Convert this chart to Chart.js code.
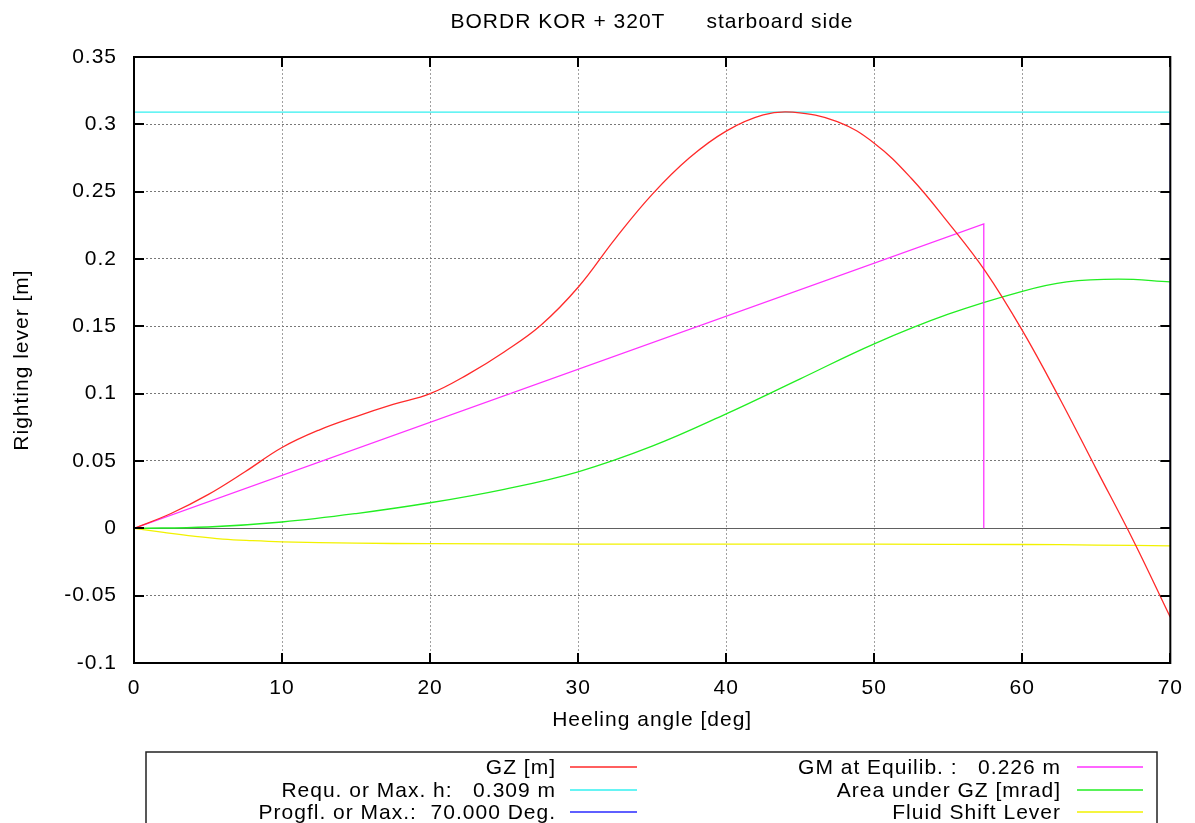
<!DOCTYPE html>
<html>
<head>
<meta charset="utf-8">
<title>BORDR KOR + 320T starboard side</title>
<script src="https://cdn.jsdelivr.net/npm/chart.js@4.4.1/dist/chart.umd.min.js"></script>
<style>
  html, body { margin: 0; padding: 0; background: #fff; }
  #chart { display: block; }
</style>
</head>
<body>
<canvas id="chart" width="1195" height="823"></canvas>
<script>
// values: heeling angle [deg] -> lever [m]
const gzAngles = [0, 2.5, 5, 7.5, 10, 12.5, 15, 17.5, 20, 22.5, 25, 27.5, 30, 32.5, 35, 37.5, 40, 42.5, 44.5, 47.5, 50, 52.5, 55, 57.5, 60, 62.5, 65, 67.5, 70];
const gzValues = [0, 0.011, 0.025, 0.042, 0.060, 0.073, 0.083, 0.092, 0.100, 0.114, 0.131, 0.151, 0.179, 0.215, 0.248, 0.275, 0.295, 0.307, 0.309, 0.302, 0.286, 0.260, 0.227, 0.191, 0.147, 0.097, 0.044, -0.009, -0.066];

const gmAngles = [0, 57.4, 57.4];
const gmValues = [0, 0.226, 0];

const maxLeverAngles = [0, 70];
const maxLeverValues = [0.309, 0.309];

const areaAngles = [0, 5, 10, 15, 20, 25, 30, 35, 40, 45, 50, 55, 60, 63, 66.5, 70];
const areaValues = [0, 0.001, 0.0047, 0.011, 0.019, 0.029, 0.042, 0.061, 0.085, 0.111, 0.137, 0.159, 0.176, 0.183, 0.185, 0.183];

const rangeAngles = [70, 70];
const rangeValues = [0, 0.309];

const fluidAngles = [0, 2, 4, 6, 8, 10, 15, 20, 30, 40, 50, 60, 65, 70];
const fluidValues = [0, -0.003, -0.0058, -0.0080, -0.0092, -0.0100, -0.0110, -0.0114, -0.0117, -0.0118, -0.0118, -0.0120, -0.0124, -0.0131];

const xTicks = [0, 10, 20, 30, 40, 50, 60, 70];
const yTicks = [-0.1, -0.05, 0, 0.05, 0.1, 0.15, 0.2, 0.25, 0.3, 0.35];

// key order is row-wise over two columns, as gnuplot lays it out
const seriesLabels = [
  "GZ [m]",
  "GM at Equilib. :   0.226 m",
  "Requ. or Max. h:   0.309 m",
  "Area under GZ [mrad]",
  "Progfl. or Max.:  70.000 Deg.",
  "Fluid Shift Lever",
];

const FAMILY = '"Liberation Sans", Arial, Helvetica, sans-serif';
const FONT = "21px " + FAMILY;
const SPACING = "1px";

const toPoints = (xs, ys) => xs.map((x, i) => ({ x: x, y: ys[i] }));

function line(label, xs, ys, color, smooth) {
  return {
    label: label,
    data: toPoints(xs, ys),
    borderColor: color,
    backgroundColor: color,
    borderWidth: 1.3,
    pointRadius: 0,
    fill: false,
    tension: smooth ? 0.4 : 0,
  };
}

const frame = {
  id: "frame",
  beforeInit(chart) {
    chart.ctx.letterSpacing = SPACING;
  },
  beforeDraw(chart) {
    chart.ctx.letterSpacing = SPACING;
  },
  beforeDatasetsDraw(chart) {
    const { ctx, chartArea: a, scales } = chart;
    const y0 = Math.round(scales.y.getPixelForValue(0)) + 0.5;
    ctx.save();
    ctx.strokeStyle = "#606060";
    ctx.lineWidth = 1.2;
    ctx.beginPath();
    ctx.moveTo(a.left, y0);
    ctx.lineTo(a.right, y0);
    ctx.stroke();
    ctx.restore();
  },
  afterDatasetsDraw(chart) {
    const { ctx, chartArea: a, scales } = chart;
    ctx.save();
    ctx.strokeStyle = "#000";
    ctx.lineWidth = 2;
    ctx.strokeRect(a.left, a.top, a.right - a.left, a.bottom - a.top);
    ctx.beginPath();
    xTicks.forEach((v) => {
      const px = Math.round(scales.x.getPixelForValue(v));
      ctx.moveTo(px, a.bottom);
      ctx.lineTo(px, a.bottom - 10);
      ctx.moveTo(px, a.top);
      ctx.lineTo(px, a.top + 10);
    });
    yTicks.forEach((v) => {
      const py = Math.round(scales.y.getPixelForValue(v));
      ctx.moveTo(a.left, py);
      ctx.lineTo(a.left + 10, py);
      ctx.moveTo(a.right, py);
      ctx.lineTo(a.right - 10, py);
    });
    ctx.stroke();
    ctx.restore();
  },
  afterDraw(chart) {
    const ctx = chart.ctx;
    ctx.save();
    ctx.letterSpacing = SPACING;
    ctx.font = FONT;
    ctx.fillStyle = "#000";
    ctx.textBaseline = "middle";
    ctx.textAlign = "center";
    ctx.fillText("BORDR KOR + 320T      starboard side", 652, 22);

    // key box under the plot
    ctx.strokeStyle = "#222";
    ctx.lineWidth = 1.5;
    ctx.strokeRect(146, 752, 1157 - 146, 100);
    const rowY = [767, 790, 812];
    const textRight = [556, 1061];
    const sampleX = [[570, 637], [1077, 1143]];
    ctx.textAlign = "right";
    chart.data.datasets.forEach((ds, i) => {
      const col = i % 2;
      const y = rowY[Math.floor(i / 2)];
      ctx.fillStyle = "#000";
      ctx.fillText(ds.label, textRight[col], y + 1);
      ctx.strokeStyle = ds.borderColor;
      ctx.lineWidth = 1.5;
      ctx.beginPath();
      ctx.moveTo(sampleX[col][0], y);
      ctx.lineTo(sampleX[col][1], y);
      ctx.stroke();
    });
    ctx.restore();
  },
};

Chart.defaults.font.family = FAMILY;
Chart.defaults.font.size = 21;
Chart.defaults.color = "#000";

const chart = new Chart(document.getElementById("chart"), {
  type: "line",
  data: {
    datasets: [
      line(seriesLabels[0], gzAngles, gzValues, "#ff2a2a", true),
      line(seriesLabels[1], gmAngles, gmValues, "#ff33ff", false),
      line(seriesLabels[2], maxLeverAngles, maxLeverValues, "#33f0f0", false),
      line(seriesLabels[3], areaAngles, areaValues, "#22ee22", true),
      line(seriesLabels[4], rangeAngles, rangeValues, "#2a2aff", false),
      line(seriesLabels[5], fluidAngles, fluidValues, "#f2f200", true),
    ],
  },
  options: {
    responsive: false,
    animation: false,
    layout: { padding: { top: 57, right: 24, bottom: 90, left: 0 } },
    plugins: {
      legend: { display: false },
      tooltip: { enabled: false },
    },
    scales: {
      x: {
        type: "linear",
        min: 0,
        max: 70,
        afterBuildTicks: (s) => { s.ticks = xTicks.map((v) => ({ value: v })); },
        afterFit: (s) => { s.height = 70; },
        ticks: { padding: 13, maxRotation: 0, callback: (v) => String(v) },
        grid: { color: "#a0a0a0", lineWidth: 1, drawTicks: false },
        border: { display: false, dash: [2, 2] },
        title: {
          display: true,
          text: "Heeling angle [deg]",
          padding: { top: 0, bottom: 0 },
        },
      },
      y: {
        min: -0.1,
        max: 0.35,
        afterBuildTicks: (s) => { s.ticks = yTicks.map((v) => ({ value: v })); },
        afterFit: (s) => { s.width = 134; },
        ticks: { padding: 17, callback: (v) => String(+v.toFixed(2)) },
        grid: { color: "#787878", lineWidth: 1, drawTicks: false },
        border: { display: false, dash: [2, 2] },
        title: {
          display: true,
          text: "Righting lever [m]",
          padding: { top: 10, bottom: 0 },
        },
      },
    },
  },
  plugins: [frame],
});
</script>
</body>
</html>
